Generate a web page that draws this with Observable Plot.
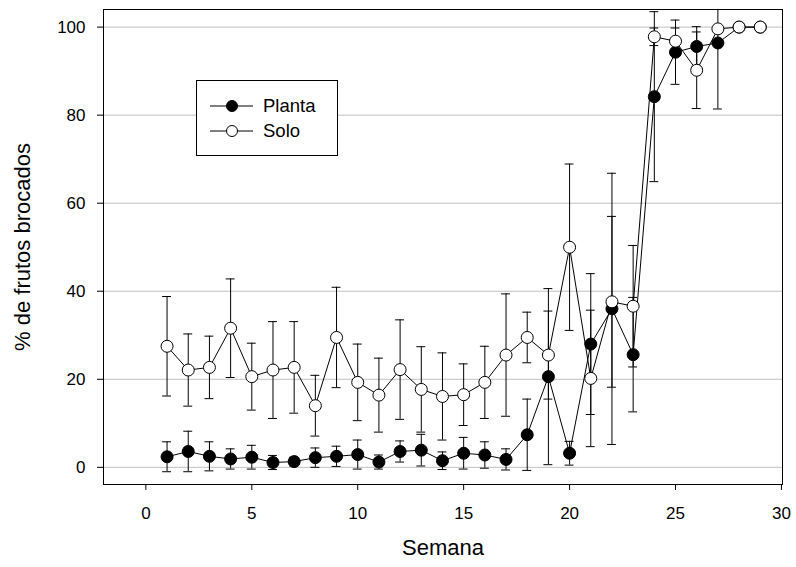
<!DOCTYPE html>
<html>
<head>
<meta charset="utf-8">
<script src="https://cdn.jsdelivr.net/npm/d3@7"></script>
<script src="https://cdn.jsdelivr.net/npm/@observablehq/plot@0.6"></script>
<style>
  html, body { margin: 0; padding: 0; background: white; }
  #wrap { position: relative; width: 796px; height: 567px; font-family: "Liberation Sans", Arial, sans-serif; }
  #legend { position: absolute; left: 196px; top: 80px; width: 142px; height: 76px; box-sizing: border-box; border: 1px solid black; background: white; }
</style>
</head>
<body>
<div id="wrap"></div>
<script>
const weeks = [1,2,3,4,5,6,7,8,9,10,11,12,13,14,15,16,17,18,19,20,21,22,23,24,25,26,27,28,29];
const planta = [2.4,3.6,2.5,1.9,2.3,1.1,1.3,2.2,2.5,2.9,1.2,3.6,3.9,1.5,3.2,2.8,1.8,7.4,20.6,3.2,28.0,36.0,25.6,84.2,94.3,95.6,96.4,100,100];
const plantaErr = [3.4,4.6,3.3,2.3,2.7,1.6,1.0,2.2,2.3,3.3,1.6,2.4,3.6,2.0,3.6,3.0,2.4,8.1,20.0,2.7,16.0,30.8,13.0,19.3,7.3,4.5,15.0,0,0];
const solo = [27.5,22.1,22.7,31.6,20.6,22.1,22.7,14.0,29.5,19.3,16.4,22.2,17.7,16.1,16.5,19.3,25.5,29.5,25.5,50.0,20.2,37.6,36.6,97.8,96.8,90.2,99.6,100,100];
const soloErr = [11.3,8.2,7.1,11.2,7.6,11.0,10.4,6.9,11.4,8.7,8.4,11.3,9.7,9.9,7.0,8.2,13.9,5.75,10.0,18.9,15.5,19.4,13.8,2.0,3.0,8.7,0,0,0];
const xTicks = [0,5,10,15,20,25,30];
const yTicks = [0,20,40,60,80,100];
const seriesNames = ["Planta", "Solo"];

const P = weeks.map((w, i) => ({wk: w, v: planta[i], e: plantaErr[i]}));
const S = weeks.map((w, i) => ({wk: w, v: solo[i], e: soloErr[i]}));
const capHalf = 0.21;

function errMarks(data) {
  const d = data.filter(r => r.e > 0);
  return [
    Plot.ruleX(d, {x: "wk", y1: r => r.v - r.e, y2: r => r.v + r.e, stroke: "black", strokeWidth: 1, clip: true}),
    Plot.ruleY(d, {y: r => r.v + r.e, x1: r => r.wk - capHalf, x2: r => r.wk + capHalf, stroke: "black", strokeWidth: 1, clip: true}),
    Plot.ruleY(d, {y: r => r.v - r.e, x1: r => r.wk - capHalf, x2: r => r.wk + capHalf, stroke: "black", strokeWidth: 1, clip: true})
  ];
}

const chart = Plot.plot({
  width: 796,
  height: 567,
  marginLeft: 103,
  marginRight: 14,
  marginTop: 9,
  marginBottom: 83,
  style: {fontFamily: "'Liberation Sans', Arial, sans-serif", fontSize: "17px", background: "white", color: "black", overflow: "visible"},
  x: {domain: [-2, 30.05]},
  y: {domain: [-3.9, 104]},
  marks: [
    Plot.ruleY(yTicks, {stroke: "#c0c0c0", strokeWidth: 1}),
    Plot.axisX({ticks: xTicks, tickSize: 6, tickPadding: 16, fontSize: 17, label: null, stroke: "black"}),
    Plot.axisY({ticks: yTicks, tickSize: 6, tickPadding: 12, fontSize: 17, label: null, stroke: "black"}),
    ...errMarks(P),
    Plot.line(P, {x: "wk", y: "v", stroke: "black", strokeWidth: 1}),
    Plot.dot(P, {x: "wk", y: "v", r: 6, fill: "black", stroke: "black", strokeWidth: 1}),
    ...errMarks(S),
    Plot.line(S, {x: "wk", y: "v", stroke: "black", strokeWidth: 1}),
    Plot.dot(S, {x: "wk", y: "v", r: 6, fill: "white", stroke: "black", strokeWidth: 1}),
    Plot.frame({stroke: "black", strokeWidth: 1}),
    Plot.text(["Semana"], {frameAnchor: "bottom", dy: 70, fontSize: 22, fill: "black"}),
    Plot.text(["% de frutos brocados"], {frameAnchor: "left", textAnchor: "middle", dx: -81, rotate: -90, fontSize: 22, fill: "black"})
  ]
});

const wrap = document.getElementById("wrap");
wrap.appendChild(chart);

// legend
const leg = document.createElement("div");
leg.id = "legend";
const ns = "http://www.w3.org/2000/svg";
const lsvg = document.createElementNS(ns, "svg");
lsvg.setAttribute("width", "140");
lsvg.setAttribute("height", "74");
const fills = ["black", "white"];
seriesNames.forEach((name, i) => {
  const cy = 25 + i * 25;
  const ln = document.createElementNS(ns, "line");
  ln.setAttribute("x1", 13); ln.setAttribute("x2", 56);
  ln.setAttribute("y1", cy); ln.setAttribute("y2", cy);
  ln.setAttribute("stroke", "black");
  lsvg.appendChild(ln);
  const c = document.createElementNS(ns, "circle");
  c.setAttribute("cx", 35); c.setAttribute("cy", cy); c.setAttribute("r", 5.5);
  c.setAttribute("fill", fills[i]); c.setAttribute("stroke", "black");
  lsvg.appendChild(c);
  const t = document.createElementNS(ns, "text");
  t.setAttribute("x", 66); t.setAttribute("y", cy);
  t.setAttribute("dy", "0.35em");
  t.setAttribute("font-size", "18.5px");
  t.setAttribute("font-family", "'Liberation Sans', Arial, sans-serif");
  t.textContent = name;
  lsvg.appendChild(t);
});
leg.appendChild(lsvg);
wrap.appendChild(leg);
</script>
</body>
</html>
